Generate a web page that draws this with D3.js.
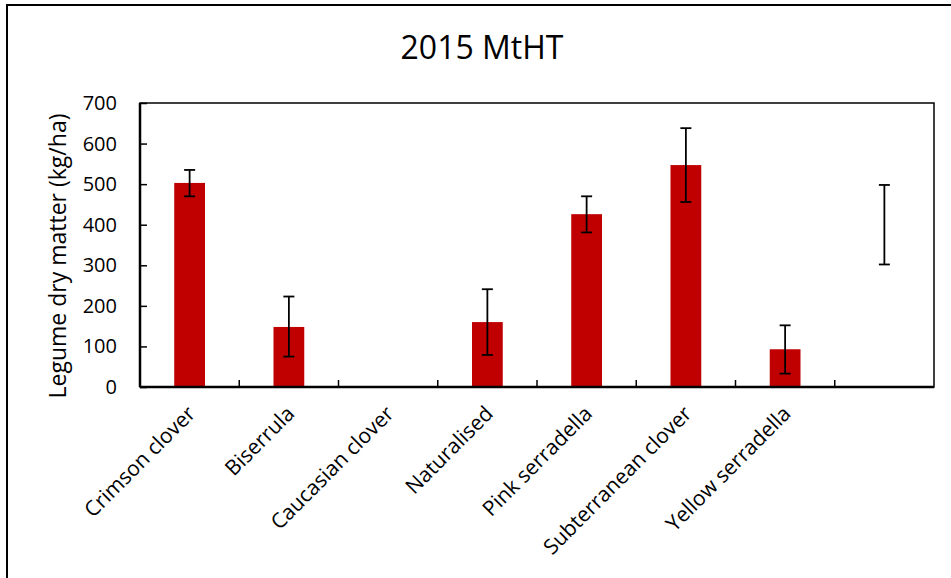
<!DOCTYPE html>
<html>
<head>
<meta charset="utf-8">
<script src="https://cdn.jsdelivr.net/npm/d3@7"></script>
<style>
  body { margin: 0; background: #fff; }
  svg { display: block; font-family: 'Open Sans', sans-serif; }
</style>
</head>
<body>
<div id="chart"></div>
<script>
// chart data
const categories = ['Crimson clover', 'Biserrula', 'Caucasian clover', 'Naturalised',
  'Pink serradella', 'Subterranean clover', 'Yellow serradella', ''];
const means = [503, 148, 0, 160, 426, 547, 93, null];
const upper = [535, 223, 0, 241, 470, 638, 152, 498];
const lower = [470, 75, 0, 79, 381, 456, 33, 302];
const yTicks = [0, 100, 200, 300, 400, 500, 600, 700];

const config = { width: 951, height: 578 };
const margin = { top: 103, right: 17, bottom: 191, left: 140 };
const width = config.width - margin.left - margin.right;
const height = config.height - margin.top - margin.bottom;

const rows = categories.map((c, i) => ({ id: i, name: c, mean: means[i], hi: upper[i], lo: lower[i] }));

const svg = d3.select('#chart').append('svg')
  .attr('width', config.width)
  .attr('height', config.height);

// outer chart frame
svg.append('rect')
  .attr('x', 7).attr('y', 5)
  .attr('width', 1000).attr('height', 1000)
  .attr('fill', 'none').attr('stroke', '#000').attr('stroke-width', 2);

svg.append('text')
  .attr('x', 482).attr('y', 59)
  .attr('text-anchor', 'middle')
  .style('font-size', '32px')
  .text('2015 MtHT');

const x = d3.scaleBand().domain(rows.map(d => d.id)).range([0, width]).padding(0);
const y = d3.scaleLinear().domain([0, 700]).range([height, 0]);

const g = svg.append('g').attr('transform', `translate(${margin.left},${margin.top})`);

// plot area border
g.append('rect')
  .attr('width', width).attr('height', height)
  .attr('fill', 'none').attr('stroke', '#000').attr('stroke-width', 1.5);

const barW = x.bandwidth() * 0.31;

g.selectAll('.bar')
  .data(rows.filter(d => d.mean))
  .enter().append('rect')
  .attr('class', 'bar')
  .attr('x', d => x(d.id) + (x.bandwidth() - barW) / 2)
  .attr('y', d => y(d.mean))
  .attr('width', barW)
  .attr('height', d => height - y(d.mean))
  .attr('fill', '#C00000');

// y axis, ticks pointing inward
const yAxis = g.append('g')
  .call(d3.axisRight(y).tickValues(yTicks).tickSize(7).tickFormat(''));
yAxis.select('.domain').remove();
yAxis.selectAll('line').attr('stroke', '#000').attr('stroke-width', 1.5);
g.selectAll('.ylab')
  .data(yTicks)
  .enter().append('text')
  .attr('x', -23)
  .attr('y', d => y(d))
  .attr('dy', '0.35em')
  .attr('text-anchor', 'end')
  .style('font-size', '20px')
  .text(d => d);

// x axis ticks between categories, pointing inward
const xEdges = d3.range(1, categories.length);
g.selectAll('.xtick')
  .data(xEdges)
  .enter().append('line')
  .attr('x1', d => x(d)).attr('x2', d => x(d))
  .attr('y1', height).attr('y2', height - 7)
  .attr('stroke', '#000').attr('stroke-width', 1.5);

g.append('line')
  .attr('x1', 0).attr('x2', 0).attr('y1', 0).attr('y2', height)
  .attr('stroke', '#000').attr('stroke-width', 2.5);
g.append('line')
  .attr('x1', 0).attr('x2', width).attr('y1', height).attr('y2', height)
  .attr('stroke', '#000').attr('stroke-width', 2.5);

// category labels
g.selectAll('.xlab')
  .data(rows)
  .enter().append('text')
  .attr('text-anchor', 'end')
  .attr('transform', d => `translate(${x(d.id) + x.bandwidth() / 2 + 7},${height + 28}) rotate(-45)`)
  .style('font-size', '21px')
  .text(d => d.name);

// error bars
const cap = 5.5;
const err = g.selectAll('.err')
  .data(rows)
  .enter().append('g')
  .attr('transform', d => `translate(${x(d.id) + x.bandwidth() / 2},0)`)
  .attr('stroke', '#000').attr('stroke-width', 1.8);
err.append('line').attr('y1', d => y(d.lo)).attr('y2', d => y(d.hi));
err.append('line').attr('x1', -cap).attr('x2', cap).attr('y1', d => y(d.hi)).attr('y2', d => y(d.hi));
err.append('line').attr('x1', -cap).attr('x2', cap).attr('y1', d => y(d.lo)).attr('y2', d => y(d.lo));

svg.append('text')
  .attr('transform', `translate(66,${256}) rotate(-90)`)
  .attr('text-anchor', 'middle')
  .style('font-size', '23px')
  .text('Legume dry matter (kg/ha)');
</script>
</body>
</html>
